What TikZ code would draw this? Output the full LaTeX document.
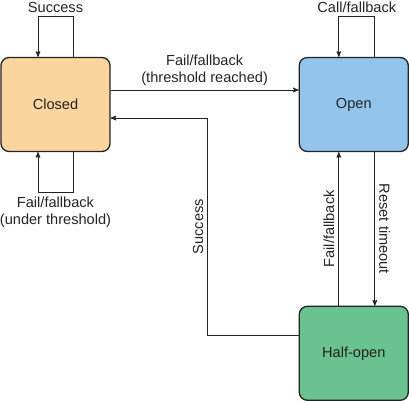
\documentclass[tikz,border=0pt]{standalone}
\usepackage{fontspec}
\setsansfont{Liberation Sans}
\usetikzlibrary{positioning,arrows}
\definecolor{closedfill}{RGB}{250,214,158}
\definecolor{openfill}{RGB}{146,196,236}
\definecolor{halffill}{RGB}{106,194,142}
\definecolor{ink}{RGB}{35,35,35}
\tikzset{state/.style={draw=ink, line width=1.3pt, rounded corners=8pt,
           minimum width=109pt, minimum height=94pt,
           font=\sffamily\fontsize{14.6}{17}\selectfont, text=ink},
         trans/.style={->, >=stealth', draw=ink, line width=1pt},
         lbl/.style={font=\sffamily\fontsize{14.6}{17}\selectfont, text=ink,
           align=center, inner sep=4pt}
}

\begin{document}
\begin{tikzpicture}[node distance=188pt]
  \useasboundingbox (-55.5pt,104.5pt) rectangle (353.5pt,-295.5pt);
  \node[state, fill=closedfill] (closed) {Closed};
  \node[state, fill=openfill, right=of closed] (open) {Open};
  \node[state, fill=halffill, below=153.5pt of open] (half) {Half-open};
  % self loops
  \draw[trans] ([xshift=17.5pt]closed.north) -- ++(0,40pt)
    -| node[lbl, pos=0.25, above] {Success} ([xshift=-17.5pt]closed.north);
  \draw[trans] ([xshift=17.5pt]closed.south) -- ++(0,-40pt)
    -| node[lbl, pos=0.25, below] {Fail/fallback\\(under threshold)} ([xshift=-17.5pt]closed.south);
  \draw[trans] ([xshift=21pt]open.north) -- ++(0,40pt)
    -| node[lbl, pos=0.25, above] {Call/fallback} ([xshift=-15pt]open.north);
  % transitions
  \draw[trans] ([yshift=14.5pt]closed.east) -- node[lbl, above] {Fail/fallback\\(threshold reached)} ([yshift=14.5pt]open.west);
  \draw[trans] ([xshift=21pt]open.south) -- node[lbl, sloped, above] {Reset timeout} ([xshift=21pt]half.north);
  \draw[trans] ([xshift=-15pt]half.north) -- node[lbl, sloped, above] {Fail/fallback} ([xshift=-15pt]open.south);
  \draw[trans] ([yshift=18pt]half.west) -- ++(-91pt,0)
    |- node[lbl, pos=0.25, sloped, above] {Success} ([yshift=-13.5pt]closed.east);
\end{tikzpicture}
\end{document}
